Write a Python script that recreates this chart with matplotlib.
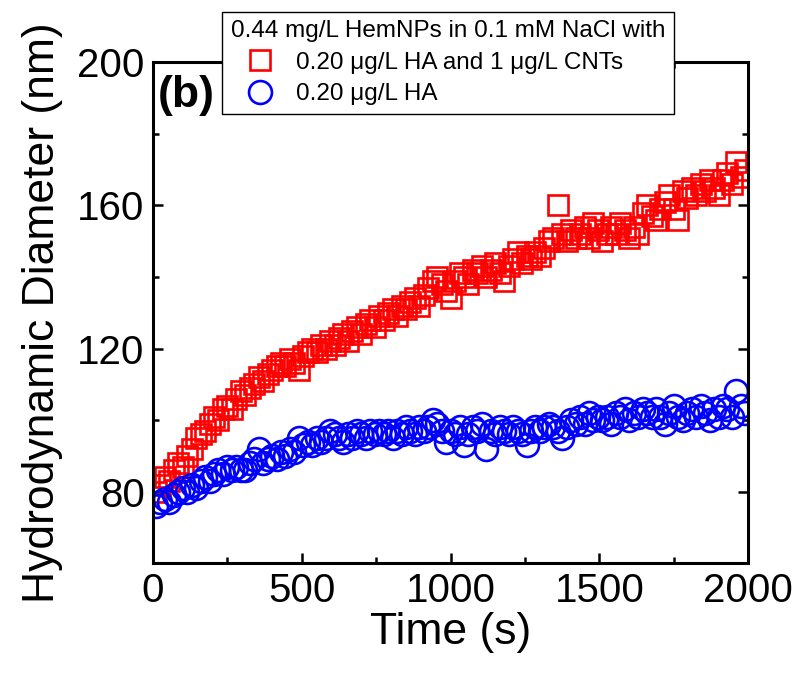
import matplotlib
matplotlib.use("Agg")
import matplotlib.pyplot as plt
from matplotlib.lines import Line2D
from matplotlib.ticker import MultipleLocator

plt.rcParams['font.family'] = ['Liberation Sans', 'DejaVu Sans']

# sampling times (s), one reading every 15 s
time_s = list(range(10, 2000, 15))

# HA + CNTs
d_red = [80, 82, 84, 83, 86, 88, 87, 90, 92, 95,
         96, 97, 99, 101, 100, 103, 104, 103, 106, 108,
         107, 109, 110, 112, 111, 113, 114, 115, 116, 115,
         117, 116, 114, 118, 119, 120, 119, 121, 120, 122,
         121, 123, 124, 122, 125, 126, 124, 127, 128, 126,
         129, 128, 130, 131, 129, 132, 131, 133, 134, 132,
         135, 137, 139, 140, 138, 136, 134, 139, 141, 140,
         138, 142, 141, 143, 140, 142, 144, 141, 139, 143,
         145, 147, 144, 146, 145, 147, 146, 148, 150, 151,
         160, 152, 150, 153, 151, 152, 154, 151, 155, 153,
         150, 152, 154, 152, 155, 153, 151, 154, 152, 158,
         160, 157, 156, 159, 161, 163, 159, 156, 164, 162,
         165, 163, 166, 164, 167, 165, 163, 167, 169, 166,
         172, 168, 170]

# HA only
d_blue = [76, 77, 78, 77, 79, 80, 81, 80, 82, 81,
          83, 84, 83, 85, 86, 85, 87, 86, 87, 86,
          86, 88, 89, 92, 88, 89, 90, 89, 91, 90,
          92, 91, 95, 93, 94, 93, 95, 94, 95, 97,
          96, 95, 94, 96, 95, 97, 96, 95, 97, 96,
          97, 96, 97, 95, 97, 96, 98, 97, 96, 98,
          97, 98, 100, 99, 97, 94, 97, 96, 98, 93,
          96, 98, 97, 99, 92, 97, 96, 98, 97, 96,
          98, 97, 96, 93, 97, 98, 97, 98, 99, 98,
          97, 95, 98, 100, 99, 101, 99, 102, 100, 101,
          100, 101, 99, 102, 101, 103, 100, 102, 101, 103,
          102, 101, 103, 101, 99, 102, 104, 101, 100, 102,
          103, 101, 104, 102, 100, 103, 101, 104, 103, 101,
          108, 104, 102]

labels = ['0.20 \u03bcg/L HA and 1 \u03bcg/L CNTs', '0.20 \u03bcg/L HA']
legend_title = '0.44 mg/L HemNPs in 0.1 mM NaCl with'

fig = plt.figure(figsize=(7.99, 6.77), dpi=100)
ax = fig.add_axes([0.1915, 0.168, 0.745, 0.74])

sq = dict(ls='none', marker='s', ms=14.5, mfc='none', mec='#ff0000', mew=1.9)
ci = dict(ls='none', marker='o', ms=16.5, mfc='none', mec='#0000ff', mew=1.9)
ax.plot(time_s, d_red, **sq)
ax.plot(time_s, d_blue, **ci)

ax.set_xlim(0, 2000)
ax.set_ylim(60, 200)
ax.xaxis.set_major_locator(MultipleLocator(500))
ax.xaxis.set_minor_locator(MultipleLocator(250))
ax.yaxis.set_major_locator(MultipleLocator(40))
ax.yaxis.set_minor_locator(MultipleLocator(20))
ax.set_yticks([80, 120, 160, 200])
ax.tick_params(which='both', direction='in', top=True, right=True, width=1.8)
ax.tick_params(which='major', length=7, labelsize=29, pad=6)
ax.tick_params(which='minor', length=4)
for s in ax.spines.values():
    s.set_linewidth(2.2)

ax.set_xlabel('Time (s)', fontsize=32, labelpad=2)
ax.set_ylabel('Hydrodynamic Diameter (nm)', fontsize=32, labelpad=10)

ax.text(0.008, 0.975, '(b)', transform=ax.transAxes, fontsize=32,
        fontweight='bold', va='top', ha='left')

handles = [Line2D([], [], **sq), Line2D([], [], **ci)]
leg = fig.legend(handles, labels, title=legend_title, loc='upper left',
                 bbox_to_anchor=(0.278, 0.983), borderaxespad=0,
                 fontsize=17.5, title_fontsize=17.5, fancybox=False, framealpha=1,
                 edgecolor='black', handlelength=2.4, handletextpad=0.3,
                 labelspacing=0.4, borderpad=0.35, alignment='left')
leg.get_frame().set_linewidth(1.0)

fig.savefig('out.png', dpi=100)
